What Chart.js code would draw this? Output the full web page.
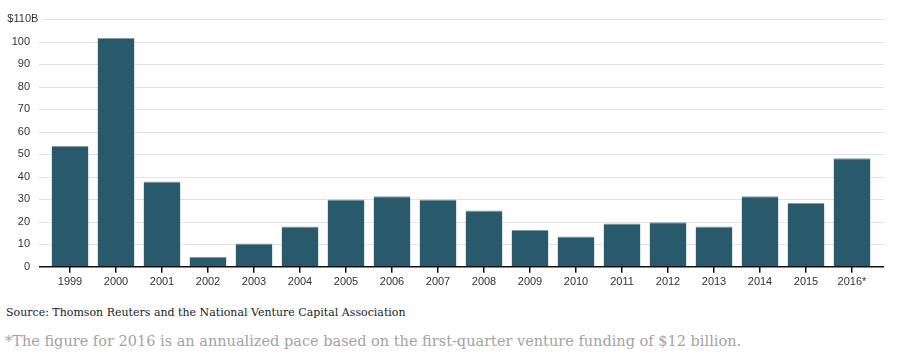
<!DOCTYPE html>
<html>
<head>
<meta charset="utf-8">
<script src="https://cdn.jsdelivr.net/npm/chart.js@4"></script>
<style>
    body { margin: 0; background: #fff; }
    #wrap { position: relative; width: 897px; height: 300px; }
    .source { position: absolute; left: 6px; top: 306px; margin: 0; font: 11px "DejaVu Serif", serif; line-height: 14px; color: #222; white-space: nowrap; }
    .note { position: absolute; left: 5px; top: 332px; margin: 0; font: 14.5px "DejaVu Serif", serif; line-height: 18px; color: #a3a3a3; white-space: nowrap; }
</style>
</head>
<body>
<div id="wrap"><canvas id="grafico"></canvas></div>
<p class="source">Source: Thomson Reuters and the National Venture Capital Association</p>
<p class="note">*The figure for 2016 is an annualized pace based on the first-quarter venture funding of $12 billion.</p>

<script>
// dados
const anos = ['1999', '2000', '2001', '2002', '2003', '2004', '2005', '2006', '2007', '2008',
    '2009', '2010', '2011', '2012', '2013', '2014', '2015', '2016*'];
const investimento = [53.6, 101.6, 37.9, 4.5, 10.3, 17.9, 29.9, 31.3, 29.9, 25.0,
    16.3, 13.4, 19.2, 19.8, 17.9, 31.3, 28.3, 48.2];
const yTicks = [0, 10, 20, 30, 40, 50, 60, 70, 80, 90, 100, 110];

const fonteEixo = '11px "Liberation Sans", Arial, sans-serif';

// linhas de grelha, eixo e rótulos do y desenhados à mão
const eixos = {
    id: 'eixos',
    beforeDatasetsDraw(chart) {
        const ctx = chart.ctx;
        const area = chart.chartArea;
        const y = chart.scales.y;
        ctx.save();
        ctx.strokeStyle = '#e1e1e8';
        ctx.lineWidth = 1;
        yTicks.forEach(v => {
            if (v === 0) return;
            const py = Math.round(y.getPixelForValue(v)) + 0.5;
            const x0 = v === 110 ? area.left - 4 : area.left - 8;
            ctx.beginPath();
            ctx.moveTo(x0, py);
            ctx.lineTo(area.right + 9, py);
            ctx.stroke();
        });

        ctx.fillStyle = '#333';
        ctx.font = fonteEixo;
        ctx.textBaseline = 'middle';
        yTicks.forEach(v => {
            const py = y.getPixelForValue(v);
            if (v === 110) {
                ctx.textAlign = 'right';
                ctx.fillText('$110', area.left - 16, py);
                ctx.textAlign = 'left';
                ctx.fillText('B', area.left - 16, py);
            } else {
                ctx.textAlign = 'right';
                ctx.fillText(String(v), area.left - 17, py);
            }
        });
        ctx.restore();
    },
    afterDatasetsDraw(chart) {
        const ctx = chart.ctx;
        const area = chart.chartArea;
        const py = chart.scales.y.getPixelForValue(0);
        ctx.save();
        ctx.strokeStyle = '#111';
        ctx.lineWidth = 1.5;
        ctx.beginPath();
        ctx.moveTo(area.left - 8, py);
        ctx.lineTo(area.right + 9, py);
        ctx.stroke();
        ctx.restore();
    }
};

const ctx = document.getElementById('grafico').getContext('2d');
const grafico = new Chart(ctx, {
    type: 'bar',
    data: {
        labels: anos,
        datasets: [
            {
                label: 'Venture funding',
                data: investimento,
                backgroundColor: '#285a6b',
                borderColor: '#7f9ea9',
                borderWidth: { top: 1, left: 0, right: 0, bottom: 0 },
                borderSkipped: 'bottom',
                barPercentage: 1,
                categoryPercentage: 0.8
            }
        ]
    },
    options: {
        responsive: false,
        animation: false,
        maintainAspectRatio: false,
        layout: {
            padding: { left: 47, right: 22, top: 19, bottom: 8 }
        },
        plugins: {
            legend: { display: false },
            tooltip: { enabled: false }
        },
        scales: {
            x: {
                grid: {
                    offset: false,
                    drawOnChartArea: false,
                    drawTicks: true,
                    tickLength: 6,
                    color: '#111',
                    lineWidth: 1.5
                },
                border: { display: false },
                ticks: {
                    color: '#333',
                    font: { family: '"Liberation Sans", Arial, sans-serif', size: 11 },
                    padding: 3,
                    maxRotation: 0,
                    autoSkip: false
                }
            },
            y: {
                display: false,
                min: 0,
                max: 110,
                ticks: { stepSize: 10 }
            }
        }
    },
    plugins: [eixos]
});
grafico.resize(897, 300);
</script>
</body>
</html>
